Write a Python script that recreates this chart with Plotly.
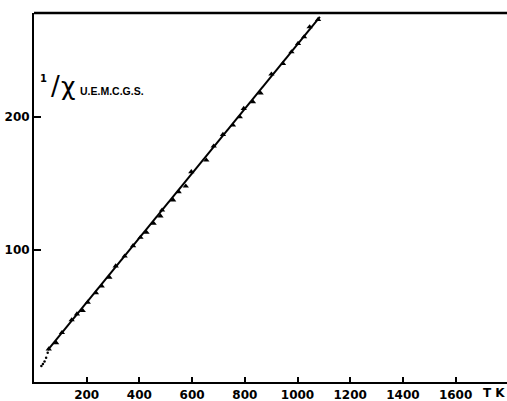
import plotly.graph_objects as go

# Measured points (T in K, 1/chi in u.e.m.c.g.s.)
T_pts = [56, 84, 106, 143, 163, 185, 204, 235, 257, 286, 310, 344, 376, 404, 427,
         454, 480, 486, 528, 549, 576, 597, 654, 682, 717, 755, 781, 796, 831, 860,
         901, 945, 977, 1002, 1025, 1046, 1078]
inv_chi = [24.9, 29.6, 37.2, 46.8, 51.3, 53.8, 60.1, 67.3, 72.4, 79.0, 87.5, 95.0, 102.8,
           109.1, 112.9, 119.7, 125.2, 129.7, 137.3, 143.5, 147.8, 158.6, 167.4, 178.0,
           186.8, 193.8, 200.1, 206.4, 211.4, 218.0, 232.3, 240.3, 249.1, 255.4, 260.4,
           268.0, 273.5]

# Straight fitted line end points
line_T = [52, 1085]
line_y = [24.0, 275.5]

# Low temperature dotted deviation
dot_T = [28, 34, 40, 46, 52]
dot_y = [12.0, 13.6, 15.5, 18.3, 22.0]

x_ticks = [200, 400, 600, 800, 1000, 1200, 1400, 1600]
y_ticks = [100, 200]

fig = go.Figure()
fig.add_trace(go.Scatter(x=line_T, y=line_y, mode="lines",
                         line=dict(color="black", width=2), hoverinfo="skip"))
fig.add_trace(go.Scatter(x=dot_T, y=dot_y, mode="markers",
                         marker=dict(color="black", size=2.5), hoverinfo="skip"))
fig.add_trace(go.Scatter(x=T_pts, y=inv_chi, mode="markers",
                         marker=dict(color="black", size=5.5, symbol="triangle-up")))

tf = dict(family="DejaVu Sans", size=12, color="black")
fig.update_layout(
    width=507, height=401,
    margin=dict(l=34, r=0, t=13, b=19),
    paper_bgcolor="white", plot_bgcolor="white",
    showlegend=False,
    xaxis=dict(range=[0, 1795], tickvals=x_ticks,
               ticktext=["<b>%d</b>" % v for v in x_ticks],
               ticks="inside", ticklen=5, tickwidth=2, tickcolor="black",
               showline=True, linecolor="black", linewidth=2, showgrid=False,
               zeroline=False, tickfont=tf, ticklabelstandoff=1),
    yaxis=dict(range=[0, 278.5], tickvals=y_ticks,
               ticktext=["<b>%d</b>" % v for v in y_ticks],
               ticks="inside", ticklen=7, tickwidth=2, tickcolor="black",
               showline=True, linecolor="black", linewidth=2, showgrid=False,
               zeroline=False, tickfont=tf, ticklabelstandoff=0),
)
fig.add_shape(type="line", xref="paper", yref="paper", x0=0, x1=1, y0=1, y1=1,
              line=dict(color="black", width=2.5))

fig.add_annotation(x=35, y=229, text="<b>1</b>", showarrow=False,
                   font=dict(family="DejaVu Sans", size=10, color="black"))
fig.add_annotation(x=80, y=223.5, text="/", showarrow=False,
                   font=dict(family="DejaVu Sans", size=26, color="black"))
fig.add_annotation(x=130, y=223, text="χ", showarrow=False,
                   font=dict(family="DejaVu Sans", size=25, color="black"))
fig.add_annotation(x=166, y=219.5, text="<b>U.E.M.C.G.S.</b>", showarrow=False, xanchor="left",
                   font=dict(family="Liberation Sans", size=10.5, color="black"))
fig.add_annotation(x=1745, y=0, text="<b>T K</b>", showarrow=False, yanchor="top", yshift=-2,
                   font=dict(family="DejaVu Sans", size=12, color="black"))

fig.write_html("out.html")
